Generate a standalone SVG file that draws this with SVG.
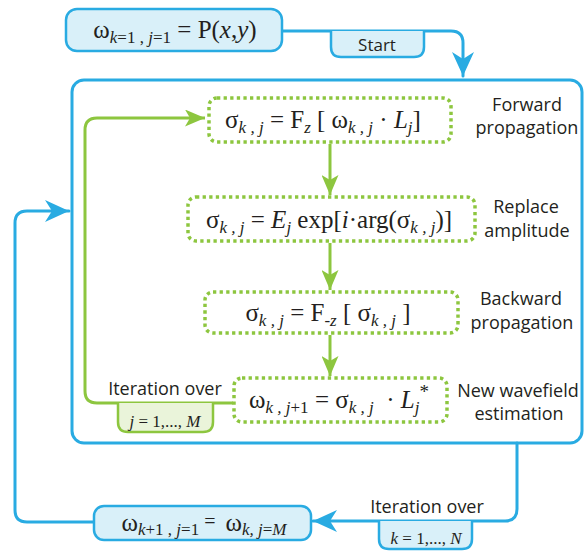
<svg xmlns="http://www.w3.org/2000/svg" width="584" height="552" viewBox="0 0 584 552">
<defs>
<style>
.blue{fill:none;stroke:#29abe2;stroke-width:3;stroke-linejoin:round;stroke-linecap:round}
.green{fill:none;stroke:#8dc63f;stroke-width:3;stroke-linejoin:round}
.bbox{fill:#d9f0f9;stroke:#29abe2;stroke-width:2.5}
.gtab{fill:#eaf4da;stroke:#8dc63f;stroke-width:2.5}
.dot{fill:none;stroke:#8dc63f;stroke-width:3.5;stroke-dasharray:3.3 3.3}
.lab{font-family:"Open Sans","Liberation Sans",sans-serif;font-size:18px;fill:#231f20;text-anchor:middle}
.m{font-family:"Liberation Serif","DejaVu Serif",serif;font-size:25px;fill:#231f20;text-anchor:middle}
.s{font-size:17px;font-style:italic}
.n{font-size:17px}
.i{font-style:italic}
</style>
<marker id="ab" viewBox="0 0 24 22" markerWidth="24" markerHeight="22" refX="24" refY="11" orient="auto" markerUnits="userSpaceOnUse"><path d="M0,0 L24,11 L0,22 L7,11 z" fill="#29abe2"/></marker>
<marker id="ag" viewBox="0 0 20 17" markerWidth="20" markerHeight="17" refX="20" refY="8.5" orient="auto" markerUnits="userSpaceOnUse"><path d="M0,0 L20,8.5 L0,17 L5,8.5 z" fill="#8dc63f"/></marker>
</defs>

<g id="outer-loop">
<rect x="72" y="80" width="510" height="363" rx="12" class="blue"/>
</g>

<g id="connectors">
<path class="blue" d="M282,31 H451 Q463,31 463,43 V76" marker-end="url(#ab)"/>
<path class="blue" d="M94,522 H27 Q15,522 15,510 V223 Q15,211 27,211 H69" marker-end="url(#ab)"/>
<path class="blue" d="M517,443 V509 Q517,521 505,521 H313" marker-end="url(#ab)"/>
<path class="green" d="M233,403 H97 Q85,403 85,391 V130 Q85,118 97,118 H205" marker-end="url(#ag)"/>
<path class="green" d="M330,144 V195" marker-end="url(#ag)"/>
<path class="green" d="M330,243 V290" marker-end="url(#ag)"/>
<path class="green" d="M330,335 V376" marker-end="url(#ag)"/>
</g>

<g id="start">
<path class="bbox" d="M331,31 V47 Q331,57 341,57 H414 Q424,57 424,47 V31"/>
<text x="377" y="51" class="lab" style="font-size:17px">Start</text>
</g>

<g id="init">
<rect x="66" y="9" width="216" height="42" rx="11" class="bbox"/>
<text x="175" y="38" class="m">ω<tspan class="s" dy="5">k</tspan><tspan class="n">=1 , </tspan><tspan class="s">j</tspan><tspan class="n">=1</tspan><tspan dy="-5"> = P(</tspan><tspan class="i">x</tspan>,<tspan class="i">y</tspan>)</text>
</g>

<g id="forward">
<rect x="209" y="98" width="242" height="44" rx="8" class="dot"/>
<text x="323" y="128" class="m">σ<tspan class="s" dy="5">k , j</tspan><tspan dy="-5"> = F</tspan><tspan class="s" dy="5">z</tspan><tspan dy="-5"> [ ω</tspan><tspan class="s" dy="5">k , j</tspan><tspan dy="-5"> · </tspan><tspan class="i">L</tspan><tspan class="s" dy="5">j</tspan><tspan dy="-5">]</tspan></text>
<text x="527" y="111" class="lab">Forward</text>
<text x="527" y="134" class="lab">propagation</text>
</g>

<g id="replace">
<rect x="188" y="197" width="287" height="44" rx="8" class="dot"/>
<text x="329" y="228" class="m">σ<tspan class="s" dy="5">k , j</tspan><tspan dy="-5"> = </tspan><tspan class="i">E</tspan><tspan class="s" dy="5">j</tspan><tspan dy="-5"> exp[</tspan><tspan class="i">i</tspan>·arg(σ<tspan class="s" dy="5">k , j</tspan><tspan dy="-5">)]</tspan></text>
<text x="526" y="213" class="lab">Replace</text>
<text x="527" y="237" class="lab">amplitude</text>
</g>

<g id="backward">
<rect x="205" y="292" width="253" height="41" rx="8" class="dot"/>
<text x="328" y="321" class="m">σ<tspan class="s" dy="5">k , j</tspan><tspan dy="-5"> = F</tspan><tspan class="s" dy="5">-z</tspan><tspan dy="-5"> [ σ</tspan><tspan class="s" dy="5">k , j</tspan><tspan dy="-5"> ]</tspan></text>
<text x="521" y="305" class="lab">Backward</text>
<text x="522" y="329" class="lab">propagation</text>
</g>

<g id="estimate">
<rect x="234" y="378" width="213" height="44" rx="8" class="dot"/>
<text x="339" y="408" class="m">ω<tspan class="s" dy="5">k , j</tspan><tspan class="n">+1</tspan><tspan dy="-5"> = σ</tspan><tspan class="s" dy="5">k , j</tspan><tspan dy="-5">&#160;&#160;·&#160;</tspan><tspan class="i">L</tspan><tspan class="s" dy="5">j</tspan><tspan dy="-15" style="font-size:19px">*</tspan></text>
<text x="518" y="397" class="lab">New wavefield</text>
<text x="519" y="420" class="lab">estimation</text>
</g>

<g id="iter-j">
<path class="gtab" d="M118,403 V422 Q118,432 128,432 H203 Q213,432 213,422 V403"/>
<text x="165" y="395" class="lab">Iteration over</text>
<text x="165" y="427" class="m" style="font-size:17px"><tspan class="i">j</tspan> = 1,..., <tspan class="i">M</tspan></text>
</g>

<g id="next">
<rect x="94" y="506" width="217" height="34" rx="10" class="bbox"/>
<text x="204" y="531" class="m">ω<tspan class="s" dy="4">k</tspan><tspan class="n">+1 , </tspan><tspan class="s">j</tspan><tspan class="n">=1</tspan><tspan dy="-7" style="font-size:20px">&#160;=&#160;&#160;</tspan><tspan dy="3">ω</tspan><tspan class="s" dy="4">k, j</tspan><tspan class="n">=</tspan><tspan class="s">M</tspan></text>
</g>

<g id="iter-k">
<path class="bbox" d="M379,521 V539 Q379,549 389,549 H462 Q472,549 472,539 V521"/>
<text x="427" y="513" class="lab">Iteration over</text>
<text x="426" y="544" class="m" style="font-size:17px"><tspan class="i">k</tspan> = 1,..., <tspan class="i">N</tspan></text>
</g>
</svg>
